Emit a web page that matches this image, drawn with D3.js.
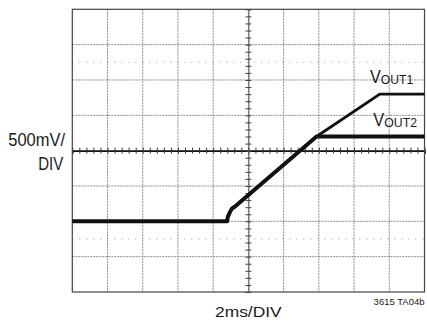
<!DOCTYPE html>
<html><head><meta charset="utf-8">
<script src="https://cdn.jsdelivr.net/npm/d3@7"></script>
<style>
html,body{margin:0;padding:0;background:#fff;}
svg{display:block;}
text{font-family:"Liberation Sans Narrow","Arial Narrow","Liberation Sans",Arial,sans-serif;}
</style>
</head><body>
<script>
// Time axis (ms), 2 ms/div, 10 divisions
const timeDomain = [0, 20];
const timeGrid = [2, 4, 6, 8, 10, 12, 14, 16, 18];
// Voltage axis (V, relative to centre), 500 mV/div, 8 divisions
const voltDomain = [-2, 2];
const voltGrid = [-1.5, -1, -0.5, 0.5, 1, 1.5];
const voltDotted = [-1.25, 1.25];

// VOUT1 trace
const t1 = [0, 8.79, 8.83, 8.95, 9.06, 9.24, 13.87, 17.46, 20];
const vout1 = [-1.0, -1.0, -0.94, -0.87, -0.82, -0.79, 0.20, 0.80, 0.80];
// VOUT2 trace
const t2 = [0, 8.79, 8.83, 8.95, 9.06, 9.24, 13.87, 20];
const vout2 = [-1.0, -1.0, -0.94, -0.87, -0.82, -0.79, 0.20, 0.20];

const seriesNames = ["OUT1", "OUT2"];

const W = 427, H = 327;
const L = 72.3, R = 424.5, T = 9.3, B = 292;

const svg = d3.select("body").append("svg").attr("width", W).attr("height", H);

const x = d3.scaleLinear().domain(timeDomain).range([L, R]);
const y = d3.scaleLinear().domain(voltDomain).range([B, T]);

// grid lines
const g = svg.append("g");
g.selectAll(".vg").data(timeGrid).join("line")
  .attr("x1", d => x(d)).attr("x2", d => x(d))
  .attr("y1", T).attr("y2", B)
  .attr("stroke", "#8a8a8a").attr("stroke-width", 1)
  .attr("stroke-dasharray", "2,1");
g.selectAll(".hg").data(voltGrid).join("line")
  .attr("x1", L).attr("x2", R)
  .attr("y1", d => y(d)).attr("y2", d => y(d))
  .attr("stroke", "#8a8a8a").attr("stroke-width", 1)
  .attr("stroke-dasharray", "2,1");
g.selectAll(".dg").data(voltDotted).join("line")
  .attr("x1", L).attr("x2", R)
  .attr("y1", d => y(d)).attr("y2", d => y(d))
  .attr("stroke", "#9a9a9a").attr("stroke-width", 1)
  .attr("stroke-dasharray", "1,6");

// centre axes with minor ticks
const xAxis = d3.axisBottom(x).tickValues(d3.range(0, 20.001, 0.4)).tickSize(3).tickFormat("");
const xa = svg.append("g").attr("transform", `translate(0,${y(0)})`).call(xAxis);
xa.select(".domain").attr("stroke", "#111").attr("stroke-width", 1.6);
xa.selectAll(".tick line").attr("stroke", "#333").attr("y1", -3);
const yAxis = d3.axisRight(y).tickValues(d3.range(-2, 2.001, 0.1)).tickSize(3).tickFormat("");
const ya = svg.append("g").attr("transform", `translate(${x(10)},0)`).call(yAxis);
ya.select(".domain").attr("stroke", "#555").attr("stroke-width", 1);
ya.selectAll(".tick line").attr("stroke", "#444").attr("x1", -3);

// frame
svg.append("rect").attr("x", L).attr("y", T).attr("width", R - L).attr("height", B - T)
  .attr("fill", "none").attr("stroke", "#444").attr("stroke-width", 1.2);

// traces
const line = d3.line().x(d => x(d[0])).y(d => y(d[1]));
svg.append("path").datum(t2.map((t, i) => [t, vout2[i]]))
  .attr("d", line).attr("fill", "none").attr("stroke", "#111")
  .attr("stroke-width", 4).attr("stroke-linejoin", "round");
svg.append("path").datum(t1.map((t, i) => [t, vout1[i]]))
  .attr("d", line).attr("fill", "none").attr("stroke", "#111")
  .attr("stroke-width", 2.8).attr("stroke-linejoin", "round");

// series labels
function label(xp, yp, sub, len) {
  const tx = svg.append("text").attr("x", xp).attr("y", yp)
    .attr("fill", "#1a1a1a").attr("textLength", len).attr("lengthAdjust", "spacingAndGlyphs");
  tx.append("tspan").attr("font-size", 18).text("V");
  tx.append("tspan").attr("font-size", 13.5).attr("dy", 1.5).text(sub);
}
label(370, 82.5, seriesNames[0], 43.3);
label(373.3, 125.5, seriesNames[1], 43.7);

// axis titles
function txt(xp, yp, s, fs, len, anchor) {
  svg.append("text").attr("x", xp).attr("y", yp).attr("text-anchor", anchor)
    .attr("font-size", fs).attr("fill", "#1a1a1a")
    .attr("textLength", len).attr("lengthAdjust", "spacingAndGlyphs").text(s);
}
txt(8.3, 145.7, "500mV/", 18, 56.7, "start");
txt(38.3, 170, "DIV", 18, 25, "start");
txt(215, 317.3, "2ms/DIV", 15.5, 66.7, "start");
svg.append("text").attr("x", 424.5).attr("y", 305).attr("text-anchor", "end")
  .attr("font-size", 9.5).attr("fill", "#1a1a1a").text("3615 TA04b");
</script>
</body></html>
